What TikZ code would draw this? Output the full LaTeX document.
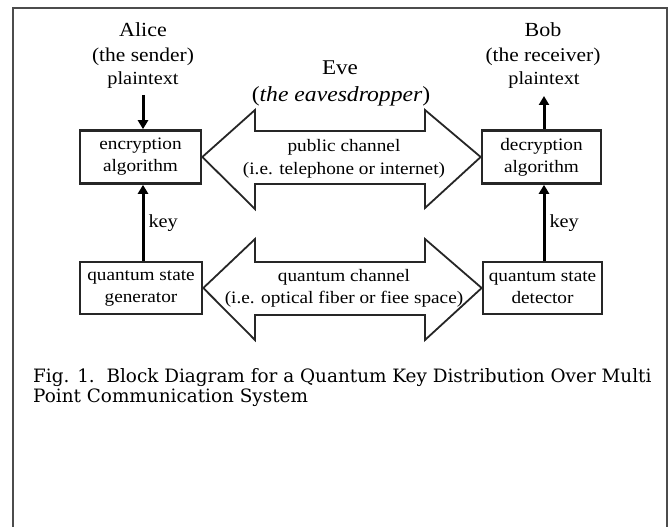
\documentclass[tikz,border=0pt]{standalone}
\usepackage{fontspec}
\setmainfont{Liberation Serif}
\newfontfamily\lab[FakeStretch=1.1]{Liberation Serif}
\newfontfamily\capfont{DejaVu Serif}
\usetikzlibrary{arrows.meta}
\begin{document}
\begin{tikzpicture}[x=1pt,y=-1pt,
  blk/.style={draw=black!85,line width=2.6pt,inner sep=0pt,align=center,font=\lab\fontsize{17.5}{22}\selectfont},
  lbl/.style={inner sep=0pt,align=center},
  chtext/.style={lbl,font=\lab\fontsize{17.5}{18}\selectfont},
  thickarrow/.style={line width=3pt,-{Triangle[width=10pt,length=9pt]}},
  chan/.style={draw=black!85,line width=1.8pt,fill=white,line join=miter}]
\useasboundingbox (0,0) rectangle (670,527);
\draw[black!70,line width=1.8pt] (13,530) -- (13,8) -- (667,8) -- (667,530);

\node[blk,minimum width=121pt,minimum height=53pt] (enc) at (140.5,157) {encryption\\algorithm};
\node[blk,minimum width=119pt,minimum height=53pt] (dec) at (541.5,157) {decryption\\algorithm};
\node[blk,minimum width=122pt,minimum height=52pt] (gen) at (141,288) {quantum state\\generator};
\node[blk,minimum width=119pt,minimum height=52pt] (det) at (542.5,288) {quantum state\\detector};

% public channel
\draw[chan] (enc.east) -- (255,110) -- (255,131) -- (425,131) -- (425,110) -- (dec.west)
  -- (425,208) -- (425,184) -- (255,184) -- (255,209) -- cycle;
% quantum channel
\draw[chan] (gen.east) -- (255,239) -- (255,262) -- (425,262) -- (425,239) -- (det.west)
  -- (425,340) -- (425,315) -- (255,315) -- (255,340) -- cycle;

\node[chtext] (pub1) at (344,147) {public channel};
\node[chtext] (pub2) at (344,170) {(i.e. telephone or internet)};
\node[chtext] (q1) at (344,277) {quantum channel};
\node[chtext] (q2) at (344,299) {(i.e. optical fiber or fiee space)};

\node[lbl,font=\lab\fontsize{21}{22}\selectfont] (eve) at (340,68) {Eve};
\node[lbl,font=\lab\fontsize{21.5}{22}\selectfont] (eve2) at (341,96) {(\textit{the eavesdropper})};

\node[lbl,font=\lab\fontsize{20}{21}\selectfont] (alice) at (143,30) {Alice};
\node[lbl,font=\lab\fontsize{19.5}{20}\selectfont] (asnd) at (143,57) {(the sender)};
\node[lbl,font=\lab\fontsize{18.5}{19}\selectfont] (apt) at (143,80) {plaintext};
\node[lbl,font=\lab\fontsize{20}{21}\selectfont] (bob) at (543,30) {Bob};
\node[lbl,font=\lab\fontsize{19.5}{20}\selectfont] (brcv) at (543,57) {(the receiver)};
\node[lbl,font=\lab\fontsize{18.5}{19}\selectfont] (bpt) at (544,80) {plaintext};

\coordinate (ain) at (143,95);
\coordinate (bout) at (544,96);
\draw[thickarrow] (ain) -- (enc.north -| ain);
\draw[thickarrow] (dec.north -| bout) -- (bout);
\draw[thickarrow] (gen.north -| ain) -- (enc.south -| ain) node[pos=0.5,right=4pt,lbl,font=\lab\fontsize{18.5}{19}\selectfont] {key};
\draw[thickarrow] (det.north -| bout) -- (dec.south -| bout) node[pos=0.5,right=4pt,lbl,font=\lab\fontsize{18.5}{19}\selectfont] {key};

\node[lbl,anchor=north west,align=left,font=\capfont\fontsize{18.4}{20.5}\selectfont] (cap) at (33,368) {Fig. 1.\ \ Block Diagram for a Quantum Key Distribution Over Multi\\Point Communication System};
\end{tikzpicture}
\end{document}
